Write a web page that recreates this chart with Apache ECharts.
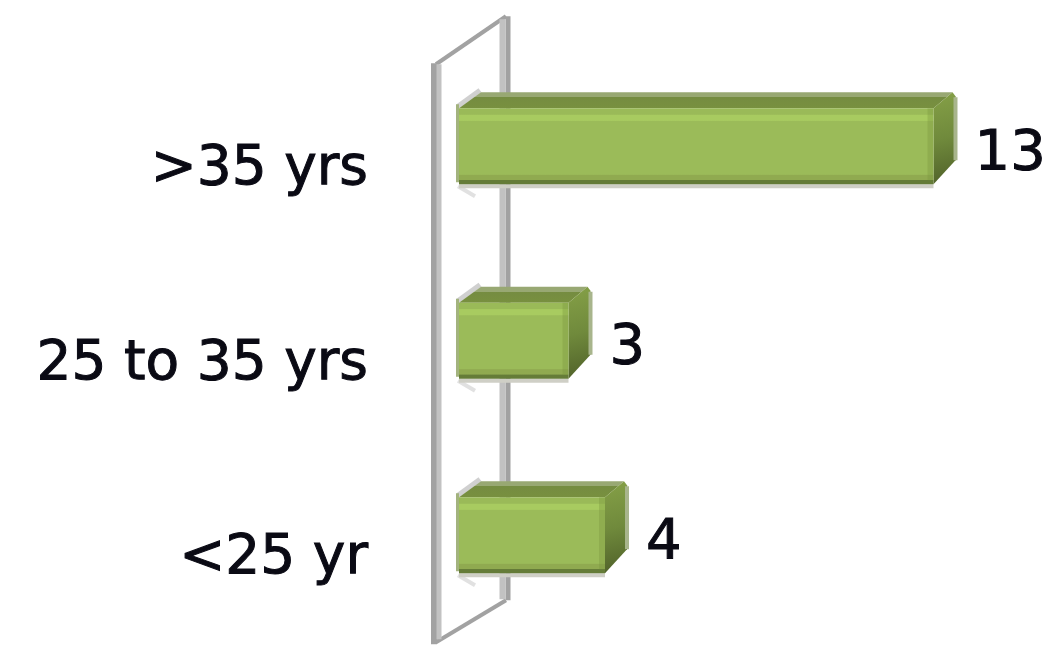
<!DOCTYPE html>
<html>
<head>
<meta charset="utf-8">
<style>
  html, body { margin: 0; padding: 0; background: #fff; }
  #main { width: 1053px; height: 645px; filter: blur(0.7px); }
</style>
</head>
<body>
<div id="main"></div>
<script src="https://cdn.jsdelivr.net/npm/echarts@6/dist/echarts.min.js"></script>
<script>
var categories = ['>35 yrs', '25 to 35 yrs', '<25 yr'];
var values = [13, 3, 4];

var chart = echarts.init(document.getElementById('main'), null, { renderer: 'canvas' });

var barHeight = 76;
var depthX = 22;
var depthY = 16;

function poly(points, fill) {
  return { type: 'polygon', shape: { points: points }, style: { fill: fill } };
}

function vGrad(stops) {
  return new echarts.graphic.LinearGradient(0, 0, 0, 1, stops);
}

// 3d bar: front face, top face, right side and the soft edges around them
function renderBar(params, api) {
  var end = api.coord([api.value(0), api.value(1)]);
  var start = api.coord([0, api.value(1)]);
  var x0 = start[0], x1 = end[0];
  var y0 = end[1] - barHeight / 2, y1 = end[1] + barHeight / 2;
  var kids = [
    // faint shadow on the left and below
    { type: 'line', shape: { x1: x0 - 1, y1: y0 - 2, x2: x0 + depthX - 1, y2: y0 - depthY - 2 },
      style: { stroke: 'rgba(150,150,150,0.45)', lineWidth: 5 } },
    { type: 'line', shape: { x1: x0 - 1, y1: y1 + 2, x2: x0 + 16, y2: y1 + 12 },
      style: { stroke: 'rgba(170,170,170,0.35)', lineWidth: 4 } },
    { type: 'rect', shape: { x: x0, y: y1, width: x1 - x0, height: 4 }, style: { fill: '#cfcfc6' } },
    { type: 'rect', shape: { x: x0 - 3, y: y0 - 4, width: 3, height: barHeight + 2 }, style: { fill: '#a3b37e' } },
    // top face
    poly([[x0, y0], [x0 + depthX, y0 - depthY], [x1 + depthX - 3, y0 - depthY], [x1, y0]],
      vGrad([{ offset: 0, color: '#98a873' }, { offset: 0.3, color: '#98a873' },
             { offset: 0.31, color: '#758c41' }, { offset: 1, color: '#78903f' }])),
    // right side, the far corner is cut off
    poly([[x1, y0], [x1 + depthX - 3, y0 - depthY], [x1 + depthX, y0 - depthY + 4], [x1 + depthX, y1 - depthY - 8], [x1, y1]],
      new echarts.graphic.LinearGradient(0, 0, 1, 1, [
        { offset: 0, color: '#85a047' }, { offset: 0.5, color: '#708a3c' }, { offset: 1, color: '#4f6029' }
      ])),
    { type: 'line', shape: { x1: x1 + depthX, y1: y0 - depthY + 5, x2: x1 + depthX, y2: y1 - depthY - 8 },
      style: { stroke: '#a8b58c', lineWidth: 4 } },
    // front face
    { type: 'rect', shape: { x: x0, y: y0, width: x1 - x0, height: barHeight },
      style: { fill: vGrad([
        { offset: 0, color: '#9aba58' }, { offset: 0.08, color: '#9aba58' },
        { offset: 0.09, color: '#a8cb60' }, { offset: 0.16, color: '#a8cb60' },
        { offset: 0.17, color: '#9bbb59' }, { offset: 0.87, color: '#9bbb59' },
        { offset: 0.88, color: '#90aa50' }, { offset: 0.94, color: '#90aa50' },
        { offset: 0.95, color: '#657c38' }, { offset: 1, color: '#657c38' }
      ]) } },
    { type: 'rect', shape: { x: x1 - 6, y: y0, width: 6, height: barHeight - 4 }, style: { fill: 'rgba(120,150,60,0.35)' } },
    // value label
    { type: 'text', style: { text: String(api.value(0)), x: x1 + 41, y: end[1] + 8,
        font: '56px "DejaVu Sans", sans-serif', fill: '#0a0a14', stroke: '#0a0a14', lineWidth: 1,
        align: 'left', verticalAlign: 'middle' } }
  ];
  return { type: 'group', children: kids };
}

// the grey wall the bars stand against, hung off the zero line of the axis
function renderWall(params, api) {
  var top = api.coord([0, 0]);
  var bottom = api.coord([0, 2]);
  var xl = top[0] - 21, xr = top[0] + 46;
  var tl = top[1] - 82, tr = top[1] - 130;
  var bl = bottom[1] + 107, br = bottom[1] + 65;
  return { type: 'group', children: [
    { type: 'line', shape: { x1: xl - 2, y1: tl, x2: xr + 1, y2: tr }, style: { stroke: '#a2a2a2', lineWidth: 4 } },
    { type: 'line', shape: { x1: xl - 2, y1: bl, x2: xr + 1, y2: br }, style: { stroke: '#a2a2a2', lineWidth: 4 } },
    { type: 'line', shape: { x1: xl - 4, y1: tl - 1, x2: xl - 4, y2: bl + 2 }, style: { stroke: '#a2a2a2', lineWidth: 6 } },
    { type: 'line', shape: { x1: xl + 1, y1: tl, x2: xl + 1, y2: bl - 3 }, style: { stroke: '#c2c2c2', lineWidth: 5 } },
    { type: 'line', shape: { x1: xr + 3, y1: tr, x2: xr + 3, y2: br }, style: { stroke: '#a2a2a2', lineWidth: 5 } },
    { type: 'line', shape: { x1: xr - 2.5, y1: tr + 3, x2: xr - 2.5, y2: br - 1 }, style: { stroke: '#c2c2c2', lineWidth: 6 } }
  ] };
}

var option = {
  animation: false,
  backgroundColor: '#fff',
  grid: { left: 459, top: 49, width: 584, height: 583.5 },
  xAxis: { type: 'value', min: 0, max: 16, show: false },
  yAxis: {
    type: 'category',
    data: categories,
    inverse: true,
    axisLine: { show: false },
    axisTick: { show: false },
    axisLabel: {
      margin: 91,
      color: '#0a0a14',
      fontFamily: 'DejaVu Sans',
      fontSize: 55,
      verticalAlign: 'top',
      lineHeight: 47,
      textBorderColor: '#0a0a14',
      textBorderWidth: 1
    }
  },
  series: [
    {
      type: 'custom',
      clip: false,
      z: 1,
      data: [[0, 0]],
      encode: { x: 0, y: 1 },
      renderItem: renderWall
    },
    {
      type: 'custom',
      clip: false,
      z: 2,
      data: values.map(function (v, i) { return [v, i]; }),
      encode: { x: 0, y: 1 },
      renderItem: renderBar
    }
  ]
};

chart.setOption(option);
window.addEventListener('resize', chart.resize);
</script>
</body>
</html>
